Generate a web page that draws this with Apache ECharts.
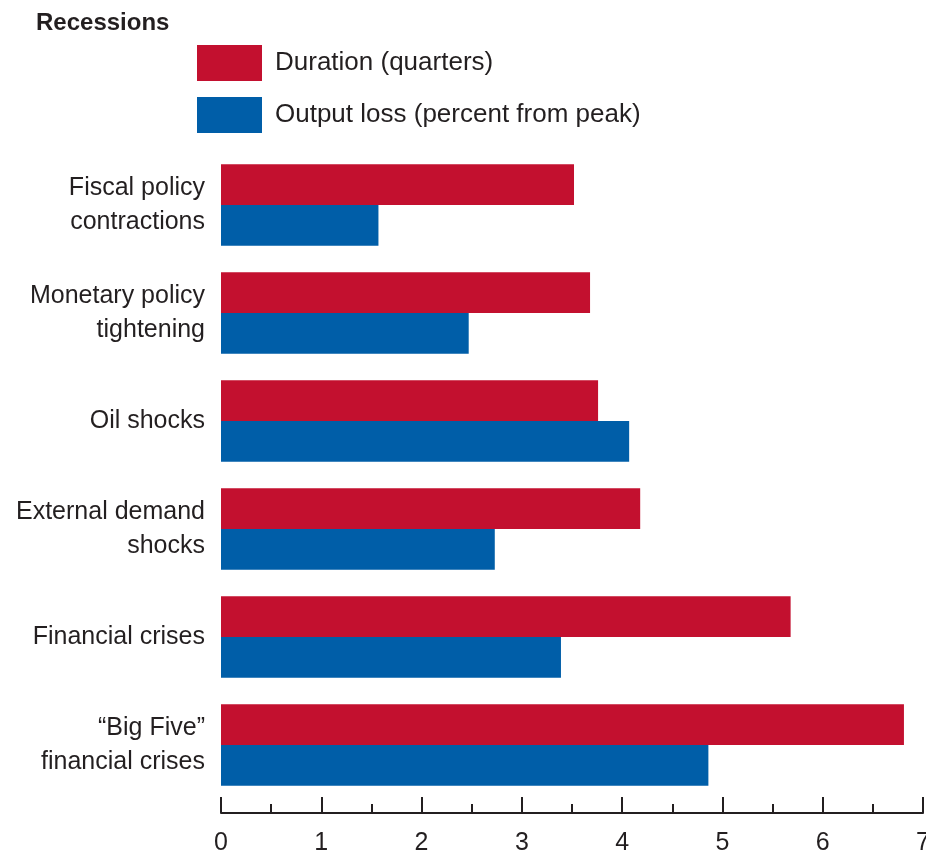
<!DOCTYPE html>
<html>
<head>
<meta charset="utf-8">
<script src="https://cdn.jsdelivr.net/npm/echarts@6/dist/echarts.min.js"></script>
<style>
  html, body { margin: 0; padding: 0; background: #ffffff; }
  #chart { width: 926px; height: 853px; }
</style>
</head>
<body>
<div id="chart"></div>
<script>
// Recession types, listed top to bottom
const categories = [
  'Fiscal policy\ncontractions',
  'Monetary policy\ntightening',
  'Oil shocks',
  'External demand\nshocks',
  'Financial crises',
  '\u201cBig Five\u201d\nfinancial crises'
];

// Duration of recession, in quarters
const durationQuarters = [3.52, 3.68, 3.76, 4.18, 5.68, 6.81];

// Cumulative output loss, percent from peak
const outputLossPct = [1.57, 2.47, 4.07, 2.73, 3.39, 4.86];

const seriesNames = ['Duration (quarters)', 'Output loss (percent from peak)'];
const xTicks = [0, 1, 2, 3, 4, 5, 6, 7];

const INK = '#231f20';
const RED = '#c3102f';
const BLUE = '#005ea8';
const FONT = '"Liberation Sans", Arial, Helvetica, sans-serif';

const chart = echarts.init(document.getElementById('chart'), null, { renderer: 'canvas' });

chart.setOption({
  animation: false,
  backgroundColor: '#ffffff',
  title: {
    text: 'Recessions',
    left: 31,
    top: 6,
    textStyle: { fontFamily: FONT, fontSize: 24, fontWeight: 'bold', color: INK }
  },
  legend: {
    orient: 'vertical',
    left: 192,
    top: 40,
    itemWidth: 65,
    itemHeight: 36,
    itemGap: 16,
    icon: 'rect',
    data: seriesNames,
    textStyle: {
      fontFamily: FONT, fontSize: 26, color: INK,
      padding: [0, 0, 0, 8]
    }
  },
  grid: {
    left: 221,
    top: 151,
    width: 702,
    height: 648,
    containLabel: false,
    outerBoundsMode: 'none'
  },
  xAxis: {
    type: 'value',
    min: xTicks[0],
    max: xTicks[xTicks.length - 1],
    interval: 1,
    offset: 14,
    axisLine: { show: true, lineStyle: { color: INK, width: 2 } },
    axisTick: { show: true, inside: true, length: 16, lineStyle: { color: INK, width: 2 } },
    minorTick: { show: true, splitNumber: 2, length: 9, lineStyle: { color: INK, width: 2 } },
    splitLine: { show: false },
    minorSplitLine: { show: false },
    axisLabel: {
      margin: 18,
      fontFamily: FONT, fontSize: 25, color: INK,
      formatter: v => String(v)
    }
  },
  yAxis: {
    type: 'category',
    inverse: true,
    data: categories,
    axisLine: { show: false },
    axisTick: { show: false },
    splitLine: { show: false },
    axisLabel: {
      margin: 16,
      fontFamily: FONT, fontSize: 25, color: INK,
      lineHeight: 34, align: 'right'
    }
  },
  series: [
    {
      name: seriesNames[0],
      type: 'bar',
      data: durationQuarters,
      itemStyle: { color: RED },
      barGap: '0%',
      barCategoryGap: '24.5%'
    },
    {
      name: seriesNames[1],
      type: 'bar',
      data: outputLossPct,
      itemStyle: { color: BLUE },
      barGap: '0%',
      barCategoryGap: '24.5%'
    }
  ]
});
</script>
</body>
</html>
